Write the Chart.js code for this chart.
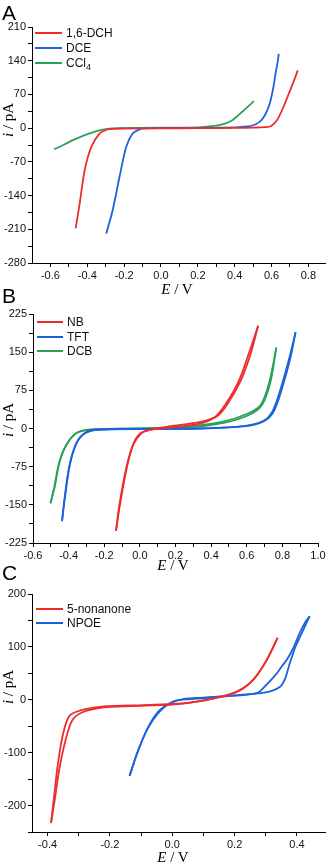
<!DOCTYPE html>
<html>
<head>
<meta charset="utf-8">
<script src="https://cdn.jsdelivr.net/npm/chart.js@4.4.1/dist/chart.umd.min.js"></script>
<style>
    body { margin: 0; width: 328px; height: 865px; background: #fff; position: relative; overflow: hidden;
           font-family: "Liberation Sans", Arial, sans-serif; }
    canvas { position: absolute; left: 0; }
    .lbl { position: absolute; color: #000; white-space: nowrap; }
    .panel { font-size: 21px; line-height: 21px; }
    .title { font-family: "Liberation Serif", "Times New Roman", serif; font-size: 15px; line-height: 15px;
             transform: translate(-50%, -50%); }
    .ytitle { transform: translate(-50%, -50%) rotate(-90deg); }
    .leg { font-size: 12px; line-height: 14px; color: #111; }
    .ln { position: absolute; height: 2px; }
</style>
</head>
<body>
<canvas id="chartA" width="328" height="300" style="top:0"></canvas>
<canvas id="chartB" width="328" height="280" style="top:300px"></canvas>
<canvas id="chartC" width="328" height="285" style="top:580px"></canvas>

<div class="lbl panel" style="left:2px;top:2px">A</div>
<div class="lbl panel" style="left:2px;top:285px">B</div>
<div class="lbl panel" style="left:2px;top:562px">C</div>

<div class="lbl title" style="left:177px;top:289px"><i>E</i> / V</div>
<div class="lbl title" style="left:173px;top:565px"><i>E</i> / V</div>
<div class="lbl title" style="left:173px;top:857px"><i>E</i> / V</div>
<div class="lbl title ytitle" style="left:8px;top:120px"><i>i</i> / pA</div>
<div class="lbl title ytitle" style="left:8px;top:420px"><i>i</i> / pA</div>
<div class="lbl title ytitle" style="left:8px;top:687px"><i>i</i> / pA</div>

<script>
    const RED = "#ee2c2c";
    const BLUE = "#1d62da";
    const GREEN = "#2ca05a";

    // Panel A
    const dchE = [-0.463, -0.441, -0.414, -0.378, -0.333, -0.30, -0.279, -0.2, 0.0, 0.2, 0.4, 0.5, 0.532, 0.565, 0.595, 0.62, 0.639, 0.667, 0.694, 0.72, 0.742];
    const dchI = [-208, -156, -87, -39, -11, -4, -2, -1, -0.5, 0, 0.5, 1, 1.5, 2, 4, 12, 23, 46, 72, 97, 120];
    const dceE = [-0.297, -0.262, -0.225, -0.189, -0.154, -0.12, -0.1, 0.0, 0.2, 0.4, 0.45, 0.50, 0.535, 0.558, 0.58, 0.595, 0.61, 0.622, 0.632, 0.639];
    const dceI = [-219, -170, -101, -39, -11, -3, -1, 0, 0.5, 1.5, 3, 6, 13, 23, 40, 58, 85, 114, 135, 154];
    const cclE = [-0.58, -0.53, -0.478, -0.43, -0.388, -0.35, -0.316, -0.28, -0.243, 0, 0.2, 0.3, 0.35, 0.387, 0.415, 0.441, 0.47, 0.504];
    const cclI = [-44, -35, -25, -17, -11, -6, -3, -1, 0, 1, 1.5, 5, 10, 16.6, 25, 34, 44, 56];

    // Panel B (forward and reverse sweeps)
    const nbFwdE = [-0.134, -0.112, -0.074, -0.037, 0.011, 0.05, 0.076, 0.17, 0.339, 0.433, 0.49, 0.565, 0.621, 0.664];
    const nbFwdI = [-201, -150, -78, -31.6, -8.6, -3, -0.6, 4.5, 13, 24, 47, 93, 146, 202];
    const nbRevE = [0.664, 0.61, 0.555, 0.48, 0.42, 0.33, 0.17, 0.07, 0.0, -0.04, -0.078, -0.116, -0.134];
    const nbRevI = [202, 146, 93, 47, 22, 9, 2, -2, -10, -33, -80, -152, -201];
    const tftFwdE = [-0.437, -0.421, -0.393, -0.355, -0.309, -0.243, -0.1, 0.1, 0.339, 0.583, 0.696, 0.752, 0.799, 0.846, 0.874];
    const tftFwdI = [-182, -137, -71, -28, -8.6, -2, -1, -0.5, 0, 4.5, 14.4, 34, 80, 140, 189];
    const tftRevE = [0.874, 0.84, 0.792, 0.745, 0.69, 0.58, 0.34, 0.1, -0.24, -0.31, -0.358, -0.396, -0.424, -0.437];
    const tftRevI = [189, 140, 80, 34, 14, 4, 0, -1, -2.5, -10, -30, -74, -140, -182];
    const dcbFwdE = [-0.502, -0.478, -0.45, -0.412, -0.356, -0.29, -0.2, 0.0, 0.245, 0.47, 0.621, 0.687, 0.734, 0.766];
    const dcbFwdI = [-147, -114, -64.5, -31.6, -8.6, -2, -1, 0, 1.4, 11, 28, 47, 93, 159];
    const dcbRevE = [0.766, 0.728, 0.68, 0.61, 0.46, 0.24, 0.0, -0.29, -0.36, -0.415, -0.455, -0.482, -0.502];
    const dcbRevI = [159, 93, 47, 30, 13, 3, 0, -2.5, -10, -34, -70, -118, -147];

    // Panel C
    const nonFwdE = [-0.389, -0.379, -0.368, -0.352, -0.331, -0.294, -0.219, -0.134, 0.004, 0.111, 0.207, 0.26, 0.303, 0.338];
    const nonFwdI = [-233, -182, -126, -69, -31, -20, -12.6, -10.7, -8, 0, 15.7, 38, 75, 117];
    const nonRevE = [0.338, 0.30, 0.255, 0.2, 0.1, 0.0, -0.134, -0.219, -0.29, -0.322, -0.343, -0.362, -0.376, -0.389];
    const nonRevI = [117, 72, 35, 13, -1.5, -9, -12, -14.5, -24, -40, -78, -130, -185, -233];
    const npoeFwdE = [-0.137, -0.112, -0.081, -0.049, -0.006, 0.036, 0.111, 0.218, 0.30, 0.345, 0.362, 0.377, 0.395, 0.41, 0.428, 0.441];
    const npoeFwdI = [-144, -100, -56, -25, -6.3, 1.3, 4.3, 9.4, 14, 24, 40, 69, 100, 119, 142, 158];
    const npoeRevE = [0.441, 0.428, 0.41, 0.39, 0.37, 0.35, 0.33, 0.30, 0.271, 0.164, 0.058, 0.004, -0.04, -0.08, -0.112, -0.137];
    const npoeRevI = [158, 148, 128, 100, 78, 62, 46, 27, 12.6, 6, 1.3, -3, -22, -56, -100, -144];

    const legendA = [["1,6-DCH", RED], ["DCE", BLUE], ["CCl<sub style='font-size:9px'>4</sub>", GREEN]];
    const legendB = [["NB", RED], ["TFT", BLUE], ["DCB", GREEN]];
    const legendC = [["5-nonanone", RED], ["NPOE", BLUE]];

    function pts(es, is) {
        return es.map((e, k) => ({ x: e, y: is[k] }));
    }

    function line(es, is, color) {
        return {
            data: pts(es, is),
            borderColor: color,
            borderWidth: 1.8,
            pointRadius: 0,
            tension: 0.3,
            fill: false
        };
    }

    function decLabel(v) {
        const k = Math.round(v * 10);
        return k % 2 === 0 ? (k / 10).toFixed(1) : "";
    }

    function intLabel(step) {
        return function (v) {
            const r = Math.round(v);
            return r % step === 0 ? String(r) : "";
        };
    }

    function axis(min, max, stepSize, cb) {
        return {
            type: "linear",
            min: min,
            max: max,
            grid: { drawOnChartArea: false, tickLength: 4, tickColor: "#000" },
            border: { color: "#000", width: 1 },
            ticks: { stepSize: stepSize, autoSkip: false, includeBounds: false, callback: cb,
                     color: "#111", padding: 2, maxRotation: 0, font: { size: 11 } }
        };
    }

    function makeChart(id, datasets, x, y, pad, yWidth, xHeight) {
        x.afterFit = s => { s.height = xHeight; };
        y.afterFit = s => { s.width = yWidth; };
        return new Chart(document.getElementById(id), {
            type: "line",
            data: { datasets: datasets },
            options: {
                responsive: false,
                animation: false,
                layout: { padding: pad },
                plugins: { legend: { display: false }, tooltip: { enabled: false } },
                scales: { x: x, y: y }
            }
        });
    }

    function addLegend(items, lineLeft, lineRight, textLeft, rows) {
        items.forEach((it, k) => {
            const ln = document.createElement("div");
            ln.className = "ln";
            ln.style.left = lineLeft + "px";
            ln.style.width = (lineRight - lineLeft) + "px";
            ln.style.top = (rows[k] - 1) + "px";
            ln.style.background = it[1];
            document.body.appendChild(ln);
            const tx = document.createElement("div");
            tx.className = "lbl leg";
            tx.style.left = textLeft + "px";
            tx.style.top = (rows[k] - 7) + "px";
            tx.innerHTML = it[0];
            document.body.appendChild(tx);
        });
    }

    Chart.defaults.font.family = "'Liberation Sans', Arial, sans-serif";

    makeChart("chartA", [
        line(dchE, dchI, RED),
        line(dceE, dceI, BLUE),
        line(cclE, cclI, GREEN)
    ], axis(-0.7, 0.89, 0.1, decLabel), axis(-280, 210, 35, intLabel(70)),
        { top: 27, right: 3, left: 0, bottom: 0 }, 32, 37);

    makeChart("chartB", [
        line(nbFwdE, nbFwdI, RED),
        line(nbRevE, nbRevI, RED),
        line(tftFwdE, tftFwdI, BLUE),
        line(tftRevE, tftRevI, BLUE),
        line(dcbFwdE, dcbFwdI, GREEN),
        line(dcbRevE, dcbRevI, GREEN)
    ], axis(-0.6, 1.0, 0.1, decLabel), axis(-225, 225, 37.5, intLabel(75)),
        { top: 14, right: 10, left: 0, bottom: 0 }, 33, 37);

    makeChart("chartC", [
        line(nonFwdE, nonFwdI, RED),
        line(nonRevE, nonRevI, RED),
        line(npoeFwdE, npoeFwdI, BLUE),
        line(npoeRevE, npoeRevI, BLUE)
    ], axis(-0.45, 0.49, 0.1, decLabel), axis(-250, 200, 50, intLabel(100)),
        { top: 14, right: 3, left: 0, bottom: 0 }, 32, 33);

    addLegend(legendA, 35, 62, 66, [33, 48, 63]);
    addLegend(legendB, 37, 63, 67, [322, 337, 351]);
    addLegend(legendC, 36, 63, 67, [609, 623]);
</script>
</body>
</html>
